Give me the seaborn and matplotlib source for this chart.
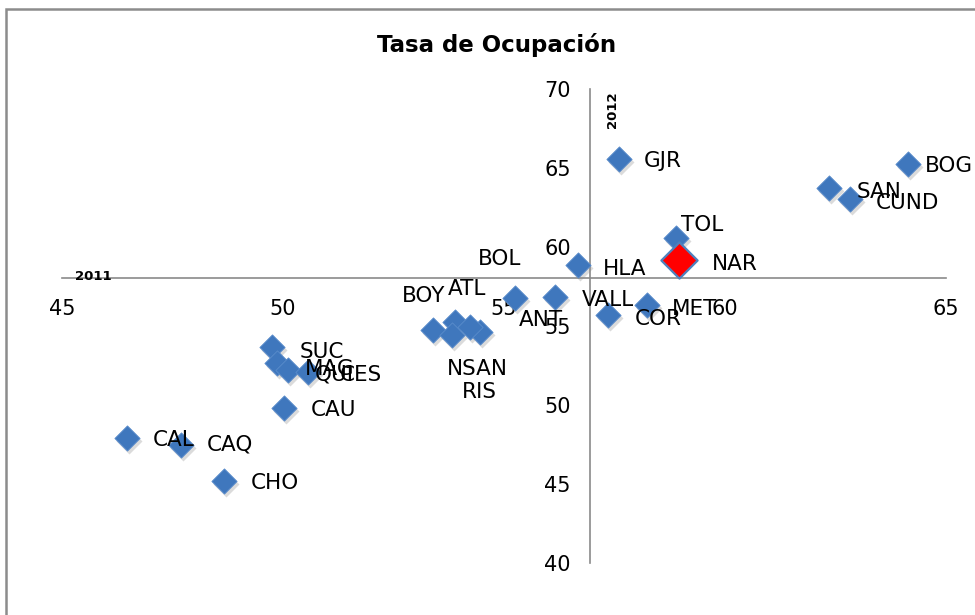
import pandas as pd
import seaborn as sns
import matplotlib.pyplot as plt
from matplotlib.patches import Rectangle
from matplotlib.transforms import offset_copy

# Tasa de ocupacion por departamento, 2011 (x) vs 2012 (y)
deptos = ["GJR", "BOG", "SAN", "CUND", "TOL", "NAR", "HLA", "BOL", "ANT", "VALL", "COR", "MET",
          "BOY", "ATL", "NSAN", "RIS", "SUC", "MAG", "QUI", "CES", "CAU", "CAL", "CAQ", "CHO"]
to_2011 = [57.60, 64.14, 62.35, 62.83, 58.89, 58.96, 56.67, 54.46, 55.25, 56.15, 57.35, 58.24,
           53.39, 53.89, 53.82, 54.23, 49.75, 49.86, 50.11, 50.57, 50.02, 46.47, 47.69, 48.67]
to_2012 = [65.57, 65.25, 63.73, 63.04, 60.57, 59.18, 58.86, 54.62, 56.77, 56.84, 55.70, 56.33,
           54.75, 55.25, 54.43, 54.94, 53.67, 52.66, 52.22, 52.09, 49.81, 47.91, 47.47, 45.19]
prom_2011 = 56.95   # where the vertical axis crosses
prom_2012 = 58.04   # where the horizontal axis crosses
resaltado = "NAR"

# label placement in pixels (right, down) from each marker
label_pos = {"GJR": (25, 0), "BOG": (17, 0), "SAN": (28, 2), "CUND": (26, 2), "TOL": (5, -15),
             "NAR": (33, 2), "HLA": (25, 2), "BOL": (-2, -75), "ANT": (4, 20), "VALL": (27, 1),
             "COR": (27, 2), "MET": (25, 2), "BOY": (-31, -36), "ATL": (-7, -35), "NSAN": (-5, 32),
             "RIS": (-8, 63), "SUC": (28, 3), "MAG": (28, 4), "QUI": (27, 3), "CES": (32, 1),
             "CAU": (27, 0), "CAL": (26, 0), "CAQ": (26, -2), "CHO": (27, 0)}

df = pd.DataFrame({"depto": deptos, "x": to_2011, "y": to_2012})
otros = df[df["depto"] != resaltado]
nar = df[df["depto"] == resaltado]

sns.set_style("white")
plt.rcParams["font.family"] = ["DejaVu Sans"]
plt.rcParams["text.color"] = "black"

fig = plt.figure(figsize=(9.75, 6.15), dpi=100)
ax = fig.add_axes([62 / 975, 52 / 615, 884 / 975, 474 / 615])

# soft drop shadow under the diamonds
sombra = offset_copy(ax.transData, fig=fig, x=2, y=-3, units="dots")
ax.scatter(otros["x"], otros["y"], s=175, marker="D", color="#8a8a8a", alpha=0.3,
           linewidths=0, transform=sombra, zorder=2)

sns.scatterplot(data=otros, x="x", y="y", marker="D", s=165, color="#3f77bd",
                edgecolor="#5a8ccb", linewidth=0.6, ax=ax, zorder=3)
sns.scatterplot(data=nar, x="x", y="y", marker="D", s=340, color="#ff0000",
                edgecolor="#4f81bd", linewidth=1.6, ax=ax, zorder=4)

for d, x, y in zip(deptos, to_2011, to_2012):
    dx, dy = label_pos[d]
    ax.annotate(d, (x, y), xytext=(dx, -dy - 2), textcoords="offset pixels",
                ha="left", va="center", fontsize=15.5, color="black", zorder=5,
                annotation_clip=False)

ax.set_xlim(45, 65)
ax.set_ylim(40, 70)
ax.set_xticks([45, 50, 55, 60, 65])
ax.set_yticks([40, 45, 50, 55, 60, 65, 70])
ax.set_xlabel("")
ax.set_ylabel("")

for s in ["top", "right"]:
    ax.spines[s].set_visible(False)
ax.spines["left"].set_position(("data", prom_2011))
ax.spines["bottom"].set_position(("data", prom_2012))
for s in ["left", "bottom"]:
    ax.spines[s].set_color("#8a8a8a")
    ax.spines[s].set_linewidth(1.2)
    ax.spines[s].set_zorder(1)
ax.tick_params(axis="both", direction="out", length=5, width=1.2, color="#8a8a8a",
               labelsize=15, labelcolor="black")
ax.tick_params(axis="x", pad=10)
ax.tick_params(axis="y", pad=9)
ax.patch.set_alpha(0)

ax.text(0.0145, 0.596, "2011", transform=ax.transAxes, fontsize=9.5, fontweight="bold",
        color="black", ha="left", va="baseline")
ax.text(prom_2011 + 0.5, 68.7, "2012", fontsize=9.5, fontweight="bold", rotation=90,
        color="black", ha="center", va="center")

fig.text(497 / 975, 1 - 45 / 615, "Tasa de Ocupación", fontsize=16.5, fontweight="bold",
         color="black", ha="center", va="center")

fig.patches.append(Rectangle((6 / 975, -0.1), 1.2, 1.1 - 9 / 615, transform=fig.transFigure,
                             fill=False, edgecolor="#8c8c8c", linewidth=1.8))

fig.savefig("out.png", dpi=100)
